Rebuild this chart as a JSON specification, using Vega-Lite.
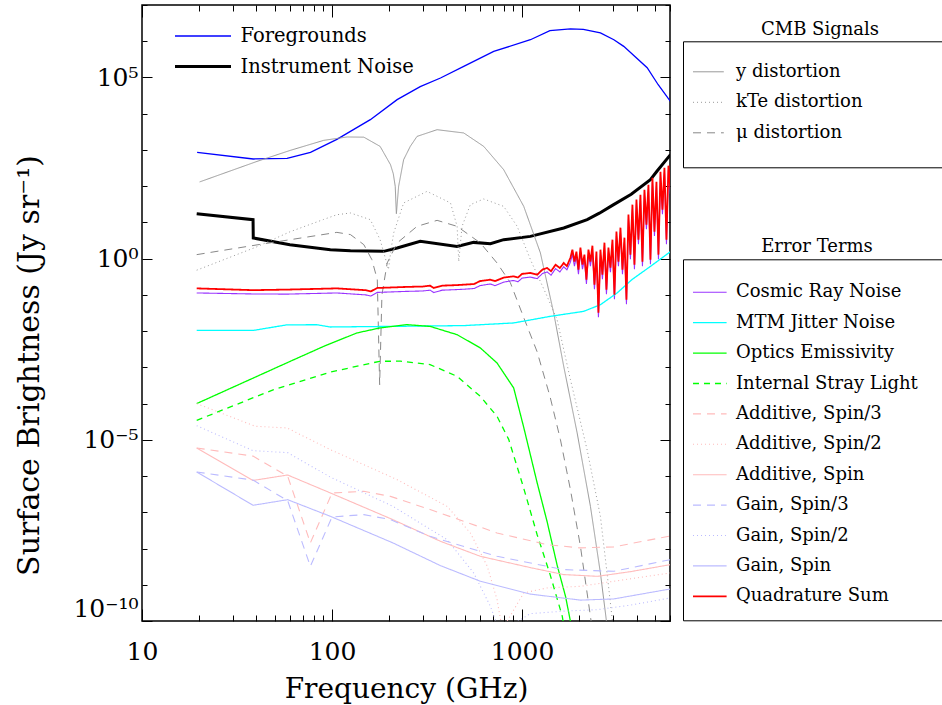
{
  "$schema": "https://vega.github.io/schema/vega-lite/v6.json",
  "width": 528,
  "height": 616,
  "autosize": {"type": "none"},
  "padding": {"left": 142, "top": 5, "right": 272, "bottom": 84},
  "background": "white",
  "config": {
    "font": "DejaVu Serif",
    "view": {"stroke": "#000", "strokeWidth": 1.5},
    "axis": {"domain": false, "grid": false, "tickColor": "#000", "tickWidth": 1, "labelColor": "#000", "titleColor": "#000", "labelFont": "DejaVu Serif", "titleFont": "DejaVu Serif", "titleFontWeight": "normal"},
    "legend": {"labelFont": "DejaVu Serif", "titleFont": "DejaVu Serif", "titleFontWeight": "normal", "labelColor": "#000", "titleColor": "#000", "labelLimit": 600}
  },
  "datasets": {
    "fg": [
      {"s": "Foregrounds", "f": 19.5, "v": 857}, {"s": "Foregrounds", "f": 38.5, "v": 563}, {"s": "Foregrounds", "f": 58, "v": 585}, {"s": "Foregrounds", "f": 77, "v": 857}, {"s": "Foregrounds", "f": 106, "v": 1950}, {"s": "Foregrounds", "f": 159, "v": 6840}, {"s": "Foregrounds", "f": 220, "v": 24400}, {"s": "Foregrounds", "f": 291, "v": 55700}, {"s": "Foregrounds", "f": 372, "v": 96800}, {"s": "Foregrounds", "f": 493, "v": 202000}, {"s": "Foregrounds", "f": 709, "v": 525000}, {"s": "Foregrounds", "f": 1106, "v": 1100000}, {"s": "Foregrounds", "f": 1400, "v": 1950000}, {"s": "Foregrounds", "f": 1796, "v": 2180000}, {"s": "Foregrounds", "f": 2100, "v": 2120000}, {"s": "Foregrounds", "f": 2582, "v": 1690000}, {"s": "Foregrounds", "f": 3040, "v": 1100000}, {"s": "Foregrounds", "f": 3425, "v": 721000}, {"s": "Foregrounds", "f": 4550, "v": 186000}, {"s": "Foregrounds", "f": 5200, "v": 63000}, {"s": "Foregrounds", "f": 6033, "v": 21900},
      {"s": "Instrument Noise", "f": 19.4, "v": 17.4}, {"s": "Instrument Noise", "f": 38.4, "v": 11.9}, {"s": "Instrument Noise", "f": 38.5, "v": 3.72}, {"s": "Instrument Noise", "f": 60, "v": 2.43}, {"s": "Instrument Noise", "f": 98, "v": 1.77}, {"s": "Instrument Noise", "f": 125, "v": 1.66}, {"s": "Instrument Noise", "f": 187, "v": 1.59}, {"s": "Instrument Noise", "f": 220, "v": 1.97}, {"s": "Instrument Noise", "f": 291, "v": 3.0}, {"s": "Instrument Noise", "f": 455, "v": 2.18}, {"s": "Instrument Noise", "f": 556, "v": 2.81}, {"s": "Instrument Noise", "f": 681, "v": 2.59}, {"s": "Instrument Noise", "f": 800, "v": 3.34}, {"s": "Instrument Noise", "f": 1106, "v": 4.12}, {"s": "Instrument Noise", "f": 1656, "v": 7.03}, {"s": "Instrument Noise", "f": 2200, "v": 12}, {"s": "Instrument Noise", "f": 2550, "v": 18}, {"s": "Instrument Noise", "f": 3000, "v": 30}, {"s": "Instrument Noise", "f": 3750, "v": 60}, {"s": "Instrument Noise", "f": 4732, "v": 151}, {"s": "Instrument Noise", "f": 5120, "v": 258}, {"s": "Instrument Noise", "f": 6033, "v": 740}
    ],
    "cmb": [
      {"s": "y distortion", "f": 20.1, "v": 131}, {"s": "y distortion", "f": 40.3, "v": 483}, {"s": "y distortion", "f": 60.3, "v": 973}, {"s": "y distortion", "f": 90.3, "v": 1837}, {"s": "y distortion", "f": 120, "v": 2280}, {"s": "y distortion", "f": 147, "v": 2250}, {"s": "y distortion", "f": 179, "v": 1254}, {"s": "y distortion", "f": 203, "v": 392}, {"s": "y distortion", "f": 210, "v": 220}, {"s": "y distortion", "f": 215, "v": 98.9}, {"s": "y distortion", "f": 218, "v": 17.4}, {"s": "y distortion", "f": 224, "v": 98.9}, {"s": "y distortion", "f": 238, "v": 538}, {"s": "y distortion", "f": 258, "v": 1254}, {"s": "y distortion", "f": 280, "v": 2365}, {"s": "y distortion", "f": 357, "v": 3620}, {"s": "y distortion", "f": 493, "v": 2940}, {"s": "y distortion", "f": 628, "v": 1254}, {"s": "y distortion", "f": 800, "v": 285}, {"s": "y distortion", "f": 1020, "v": 27.7}, {"s": "y distortion", "f": 1248, "v": 1.44}, {"s": "y distortion", "f": 1466, "v": 0.0317}, {"s": "y distortion", "f": 1656, "v": 0.00106}, {"s": "y distortion", "f": 1948, "v": 1.55e-5}, {"s": "y distortion", "f": 2288, "v": 1.46e-7}, {"s": "y distortion", "f": 2582, "v": 2.12e-9}, {"s": "y distortion", "f": 2779, "v": 9.8e-11}, {"s": "y distortion", "f": 2988, "v": 8.5e-12},
      {"s": "kTe distortion", "f": 19.4, "v": 0.48}, {"s": "kTe distortion", "f": 40, "v": 2.1}, {"s": "kTe distortion", "f": 60, "v": 5.5}, {"s": "kTe distortion", "f": 90, "v": 12}, {"s": "kTe distortion", "f": 106, "v": 16.3}, {"s": "kTe distortion", "f": 125, "v": 18.2}, {"s": "kTe distortion", "f": 159, "v": 11.9}, {"s": "kTe distortion", "f": 179, "v": 3.34}, {"s": "kTe distortion", "f": 193, "v": 0.83}, {"s": "kTe distortion", "f": 198, "v": 0.5}, {"s": "kTe distortion", "f": 205, "v": 2.0}, {"s": "kTe distortion", "f": 211, "v": 5.12}, {"s": "kTe distortion", "f": 238, "v": 34.4}, {"s": "kTe distortion", "f": 316, "v": 71.9}, {"s": "kTe distortion", "f": 420, "v": 34.4}, {"s": "kTe distortion", "f": 455, "v": 7.79}, {"s": "kTe distortion", "f": 464, "v": 0.83}, {"s": "kTe distortion", "f": 483, "v": 7.79}, {"s": "kTe distortion", "f": 534, "v": 30.8}, {"s": "kTe distortion", "f": 628, "v": 44.4}, {"s": "kTe distortion", "f": 800, "v": 27.7}, {"s": "kTe distortion", "f": 942, "v": 7.79}, {"s": "kTe distortion", "f": 1106, "v": 0.94}, {"s": "kTe distortion", "f": 1354, "v": 0.091}, {"s": "kTe distortion", "f": 1528, "v": 0.0207}, {"s": "kTe distortion", "f": 1796, "v": 4.58e-4}, {"s": "kTe distortion", "f": 2197, "v": 5.36e-6}, {"s": "kTe distortion", "f": 2582, "v": 7.74e-8}, {"s": "kTe distortion", "f": 2798, "v": 2.12e-9}, {"s": "kTe distortion", "f": 2987, "v": 1e-10}, {"s": "kTe distortion", "f": 3213, "v": 8.5e-12},
      {"s": "μ distortion", "f": 19.4, "v": 1.29}, {"s": "μ distortion", "f": 40.3, "v": 2.4}, {"s": "μ distortion", "f": 60.3, "v": 3.34}, {"s": "μ distortion", "f": 106, "v": 5.31}, {"s": "μ distortion", "f": 125, "v": 4.61}, {"s": "μ distortion", "f": 147, "v": 2.43}, {"s": "μ distortion", "f": 162, "v": 0.94}, {"s": "μ distortion", "f": 173, "v": 0.263}, {"s": "μ distortion", "f": 178, "v": 3.33e-4}, {"s": "μ distortion", "f": 183, "v": 0.1}, {"s": "μ distortion", "f": 195, "v": 0.76}, {"s": "μ distortion", "f": 220, "v": 2.71}, {"s": "μ distortion", "f": 280, "v": 7.79}, {"s": "μ distortion", "f": 357, "v": 11.4}, {"s": "μ distortion", "f": 455, "v": 7.79}, {"s": "μ distortion", "f": 603, "v": 2.71}, {"s": "μ distortion", "f": 738, "v": 0.76}, {"s": "μ distortion", "f": 867, "v": 0.217}, {"s": "μ distortion", "f": 1020, "v": 0.0236}, {"s": "μ distortion", "f": 1199, "v": 2.71e-3}, {"s": "μ distortion", "f": 1403, "v": 1.55e-4}, {"s": "μ distortion", "f": 1591, "v": 1.01e-5}, {"s": "μ distortion", "f": 1796, "v": 4.2e-7}, {"s": "μ distortion", "f": 2027, "v": 1.15e-8}, {"s": "μ distortion", "f": 2288, "v": 1.35e-10}, {"s": "μ distortion", "f": 2460, "v": 8.5e-12}
    ],
    "err": [
      {"s": "Cosmic Ray Noise", "f": 19.4, "v": 0.113}, {"s": "Cosmic Ray Noise", "f": 38.5, "v": 0.106}, {"s": "Cosmic Ray Noise", "f": 58, "v": 0.105}, {"s": "Cosmic Ray Noise", "f": 106, "v": 0.113}, {"s": "Cosmic Ray Noise", "f": 150, "v": 0.1}, {"s": "Cosmic Ray Noise", "f": 160, "v": 0.093}, {"s": "Cosmic Ray Noise", "f": 173, "v": 0.117}, {"s": "Cosmic Ray Noise", "f": 247, "v": 0.125}, {"s": "Cosmic Ray Noise", "f": 300, "v": 0.128}, {"s": "Cosmic Ray Noise", "f": 328, "v": 0.135}, {"s": "Cosmic Ray Noise", "f": 343, "v": 0.116}, {"s": "Cosmic Ray Noise", "f": 380, "v": 0.135}, {"s": "Cosmic Ray Noise", "f": 440, "v": 0.139}, {"s": "Cosmic Ray Noise", "f": 493, "v": 0.143}, {"s": "Cosmic Ray Noise", "f": 560, "v": 0.15}, {"s": "Cosmic Ray Noise", "f": 600, "v": 0.18}, {"s": "Cosmic Ray Noise", "f": 681, "v": 0.2}, {"s": "Cosmic Ray Noise", "f": 720, "v": 0.18}, {"s": "Cosmic Ray Noise", "f": 800, "v": 0.225}, {"s": "Cosmic Ray Noise", "f": 903, "v": 0.25}, {"s": "Cosmic Ray Noise", "f": 950, "v": 0.23}, {"s": "Cosmic Ray Noise", "f": 1000, "v": 0.29}, {"s": "Cosmic Ray Noise", "f": 1106, "v": 0.31}, {"s": "Cosmic Ray Noise", "f": 1200, "v": 0.28}, {"s": "Cosmic Ray Noise", "f": 1280, "v": 0.39}, {"s": "Cosmic Ray Noise", "f": 1354, "v": 0.43}, {"s": "Cosmic Ray Noise", "f": 1420, "v": 0.35}, {"s": "Cosmic Ray Noise", "f": 1500, "v": 0.53}, {"s": "Cosmic Ray Noise", "f": 1580, "v": 0.43}, {"s": "Cosmic Ray Noise", "f": 1656, "v": 0.6}, {"s": "Cosmic Ray Noise", "f": 1720, "v": 0.49},
      {"s": "Cosmic Ray Noise", "f": 1796, "v": 0.8}, {"s": "Cosmic Ray Noise", "f": 1839, "v": 1.33}, {"s": "Cosmic Ray Noise", "f": 1885, "v": 0.62}, {"s": "Cosmic Ray Noise", "f": 1931, "v": 1.17}, {"s": "Cosmic Ray Noise", "f": 1979, "v": 0.37}, {"s": "Cosmic Ray Noise", "f": 2027, "v": 1.5}, {"s": "Cosmic Ray Noise", "f": 2077, "v": 0.51}, {"s": "Cosmic Ray Noise", "f": 2128, "v": 0.97}, {"s": "Cosmic Ray Noise", "f": 2180, "v": 0.2}, {"s": "Cosmic Ray Noise", "f": 2234, "v": 1.33}, {"s": "Cosmic Ray Noise", "f": 2289, "v": 0.62}, {"s": "Cosmic Ray Noise", "f": 2344, "v": 1.71}, {"s": "Cosmic Ray Noise", "f": 2402, "v": 0.143}, {"s": "Cosmic Ray Noise", "f": 2461, "v": 1.17}, {"s": "Cosmic Ray Noise", "f": 2521, "v": 0.024}, {"s": "Cosmic Ray Noise", "f": 2583, "v": 1.33}, {"s": "Cosmic Ray Noise", "f": 2646, "v": 0.27}, {"s": "Cosmic Ray Noise", "f": 2712, "v": 2.07}, {"s": "Cosmic Ray Noise", "f": 2778, "v": 0.104}, {"s": "Cosmic Ray Noise", "f": 2846, "v": 1.5}, {"s": "Cosmic Ray Noise", "f": 2916, "v": 0.42}, {"s": "Cosmic Ray Noise", "f": 2988, "v": 2.5}, {"s": "Cosmic Ray Noise", "f": 3061, "v": 0.076}, {"s": "Cosmic Ray Noise", "f": 3136, "v": 4.2}, {"s": "Cosmic Ray Noise", "f": 3213, "v": 0.62}, {"s": "Cosmic Ray Noise", "f": 3292, "v": 5.4}, {"s": "Cosmic Ray Noise", "f": 3373, "v": 0.37}, {"s": "Cosmic Ray Noise", "f": 3455, "v": 2.84}, {"s": "Cosmic Ray Noise", "f": 3540, "v": 0.055}, {"s": "Cosmic Ray Noise", "f": 3627, "v": 12.3}, {"s": "Cosmic Ray Noise", "f": 3715, "v": 0.97}, {"s": "Cosmic Ray Noise", "f": 3806, "v": 23.2}, {"s": "Cosmic Ray Noise", "f": 3900, "v": 0.51}, {"s": "Cosmic Ray Noise", "f": 3996, "v": 31.9}, {"s": "Cosmic Ray Noise", "f": 4094, "v": 2.5}, {"s": "Cosmic Ray Noise", "f": 4194, "v": 43.7}, {"s": "Cosmic Ray Noise", "f": 4297, "v": 0.62}, {"s": "Cosmic Ray Noise", "f": 4403, "v": 60}, {"s": "Cosmic Ray Noise", "f": 4510, "v": 6.5}, {"s": "Cosmic Ray Noise", "f": 4621, "v": 82}, {"s": "Cosmic Ray Noise", "f": 4735, "v": 0.7}, {"s": "Cosmic Ray Noise", "f": 4851, "v": 128}, {"s": "Cosmic Ray Noise", "f": 4970, "v": 4.2}, {"s": "Cosmic Ray Noise", "f": 5092, "v": 100}, {"s": "Cosmic Ray Noise", "f": 5217, "v": 0.97}, {"s": "Cosmic Ray Noise", "f": 5345, "v": 188}, {"s": "Cosmic Ray Noise", "f": 5476, "v": 16.9}, {"s": "Cosmic Ray Noise", "f": 5610, "v": 243}, {"s": "Cosmic Ray Noise", "f": 5748, "v": 2.5}, {"s": "Cosmic Ray Noise", "f": 5888, "v": 276}, {"s": "Cosmic Ray Noise", "f": 6033, "v": 60},
      {"s": "MTM Jitter Noise", "f": 19.4, "v": 0.0105}, {"s": "MTM Jitter Noise", "f": 38.7, "v": 0.0105}, {"s": "MTM Jitter Noise", "f": 57.9, "v": 0.0149}, {"s": "MTM Jitter Noise", "f": 83.4, "v": 0.015}, {"s": "MTM Jitter Noise", "f": 97.9, "v": 0.013}, {"s": "MTM Jitter Noise", "f": 203, "v": 0.0135}, {"s": "MTM Jitter Noise", "f": 493, "v": 0.0142}, {"s": "MTM Jitter Noise", "f": 903, "v": 0.0168}, {"s": "MTM Jitter Noise", "f": 1403, "v": 0.0255}, {"s": "MTM Jitter Noise", "f": 2108, "v": 0.0351}, {"s": "MTM Jitter Noise", "f": 2583, "v": 0.0537}, {"s": "MTM Jitter Noise", "f": 3162, "v": 0.113}, {"s": "MTM Jitter Noise", "f": 3780, "v": 0.263}, {"s": "MTM Jitter Noise", "f": 4735, "v": 0.612}, {"s": "MTM Jitter Noise", "f": 6033, "v": 1.56},
      {"s": "Optics Emissivity", "f": 19.4, "v": 1e-4}, {"s": "Optics Emissivity", "f": 40.3, "v": 5.65e-4}, {"s": "Optics Emissivity", "f": 60.3, "v": 1.47e-3}, {"s": "Optics Emissivity", "f": 90.3, "v": 3.79e-3}, {"s": "Optics Emissivity", "f": 135, "v": 8.89e-3}, {"s": "Optics Emissivity", "f": 178, "v": 0.0122}, {"s": "Optics Emissivity", "f": 247, "v": 0.0151}, {"s": "Optics Emissivity", "f": 328, "v": 0.0135}, {"s": "Optics Emissivity", "f": 455, "v": 7.98e-3}, {"s": "Optics Emissivity", "f": 603, "v": 3.43e-3}, {"s": "Optics Emissivity", "f": 738, "v": 1.32e-3}, {"s": "Optics Emissivity", "f": 903, "v": 2.7e-4}, {"s": "Optics Emissivity", "f": 1020, "v": 2.2e-5}, {"s": "Optics Emissivity", "f": 1200, "v": 6.5e-7}, {"s": "Optics Emissivity", "f": 1354, "v": 5.5e-8}, {"s": "Optics Emissivity", "f": 1528, "v": 3.5e-9}, {"s": "Optics Emissivity", "f": 1692, "v": 4.8e-10}, {"s": "Optics Emissivity", "f": 1796, "v": 9.8e-11}, {"s": "Optics Emissivity", "f": 1905, "v": 2.3e-11},
      {"s": "Internal Stray Light", "f": 19.4, "v": 3.45e-5}, {"s": "Internal Stray Light", "f": 49.3, "v": 2.43e-4}, {"s": "Internal Stray Light", "f": 98, "v": 7.38e-4}, {"s": "Internal Stray Light", "f": 178, "v": 1.47e-3}, {"s": "Internal Stray Light", "f": 229, "v": 1.48e-3}, {"s": "Internal Stray Light", "f": 328, "v": 1.19e-3}, {"s": "Internal Stray Light", "f": 455, "v": 5.65e-4}, {"s": "Internal Stray Light", "f": 603, "v": 1.58e-4}, {"s": "Internal Stray Light", "f": 738, "v": 4.45e-5}, {"s": "Internal Stray Light", "f": 850, "v": 1.03e-5}, {"s": "Internal Stray Light", "f": 1020, "v": 4.6e-7}, {"s": "Internal Stray Light", "f": 1200, "v": 2.4e-8}, {"s": "Internal Stray Light", "f": 1403, "v": 1.94e-9}, {"s": "Internal Stray Light", "f": 1627, "v": 1.35e-10}, {"s": "Internal Stray Light", "f": 1704, "v": 3.1e-11},
      {"s": "Additive, Spin/3", "f": 19.4, "v": 5.97e-6}, {"s": "Additive, Spin/3", "f": 38.4, "v": 3.55e-6}, {"s": "Additive, Spin/3", "f": 58.4, "v": 9.95e-7}, {"s": "Additive, Spin/3", "f": 76.9, "v": 1.43e-8}, {"s": "Additive, Spin/3", "f": 100, "v": 3.42e-7}, {"s": "Additive, Spin/3", "f": 147, "v": 3.79e-7}, {"s": "Additive, Spin/3", "f": 203, "v": 2.75e-7}, {"s": "Additive, Spin/3", "f": 328, "v": 1.19e-7}, {"s": "Additive, Spin/3", "f": 738, "v": 2.69e-8}, {"s": "Additive, Spin/3", "f": 1354, "v": 1.28e-8}, {"s": "Additive, Spin/3", "f": 2027, "v": 1.04e-8}, {"s": "Additive, Spin/3", "f": 3040, "v": 1.11e-8}, {"s": "Additive, Spin/3", "f": 6033, "v": 2.23e-8},
      {"s": "Additive, Spin/2", "f": 19.4, "v": 1.0e-4}, {"s": "Additive, Spin/2", "f": 39.5, "v": 2.36e-5}, {"s": "Additive, Spin/2", "f": 57.9, "v": 2.13e-5}, {"s": "Additive, Spin/2", "f": 98, "v": 5.36e-6}, {"s": "Additive, Spin/2", "f": 220, "v": 7.96e-7}, {"s": "Additive, Spin/2", "f": 403, "v": 1.46e-7}, {"s": "Additive, Spin/2", "f": 534, "v": 2.69e-8}, {"s": "Additive, Spin/2", "f": 656, "v": 3.23e-9}, {"s": "Additive, Spin/2", "f": 738, "v": 3.89e-10}, {"s": "Additive, Spin/2", "f": 770, "v": 1.09e-10}, {"s": "Additive, Spin/2", "f": 788, "v": 8.5e-12}, {"s": "Additive, Spin/2", "f": 835, "v": 1e-10}, {"s": "Additive, Spin/2", "f": 1020, "v": 5.96e-10}, {"s": "Additive, Spin/2", "f": 1354, "v": 8.18e-10}, {"s": "Additive, Spin/2", "f": 2027, "v": 9.06e-10}, {"s": "Additive, Spin/2", "f": 3040, "v": 1.25e-9}, {"s": "Additive, Spin/2", "f": 6033, "v": 2.12e-9},
      {"s": "Additive, Spin", "f": 19.4, "v": 5.97e-6}, {"s": "Additive, Spin", "f": 38.4, "v": 7.57e-7}, {"s": "Additive, Spin", "f": 58.4, "v": 1.07e-6}, {"s": "Additive, Spin", "f": 98, "v": 3.42e-7}, {"s": "Additive, Spin", "f": 209, "v": 6.27e-8}, {"s": "Additive, Spin", "f": 372, "v": 1.58e-8}, {"s": "Additive, Spin", "f": 603, "v": 6.1e-9}, {"s": "Additive, Spin", "f": 1106, "v": 2.97e-9}, {"s": "Additive, Spin", "f": 1656, "v": 1.91e-9}, {"s": "Additive, Spin", "f": 2496, "v": 1.71e-9}, {"s": "Additive, Spin", "f": 3715, "v": 2.3e-9}, {"s": "Additive, Spin", "f": 6033, "v": 3.6e-9},
      {"s": "Gain, Spin/3", "f": 19.4, "v": 1.3e-6}, {"s": "Gain, Spin/3", "f": 38.4, "v": 7.71e-7}, {"s": "Gain, Spin/3", "f": 58.4, "v": 2.1e-7}, {"s": "Gain, Spin/3", "f": 76.9, "v": 3.23e-9}, {"s": "Gain, Spin/3", "f": 100, "v": 7.45e-8}, {"s": "Gain, Spin/3", "f": 147, "v": 8.63e-8}, {"s": "Gain, Spin/3", "f": 203, "v": 6.28e-8}, {"s": "Gain, Spin/3", "f": 328, "v": 2.17e-8}, {"s": "Gain, Spin/3", "f": 738, "v": 6.09e-9}, {"s": "Gain, Spin/3", "f": 1656, "v": 2.62e-9}, {"s": "Gain, Spin/3", "f": 3040, "v": 2.35e-9}, {"s": "Gain, Spin/3", "f": 6033, "v": 4.94e-9},
      {"s": "Gain, Spin/2", "f": 19.4, "v": 2.46e-5}, {"s": "Gain, Spin/2", "f": 38.4, "v": 5.02e-6}, {"s": "Gain, Spin/2", "f": 58.4, "v": 4.43e-6}, {"s": "Gain, Spin/2", "f": 98, "v": 9.33e-7}, {"s": "Gain, Spin/2", "f": 209, "v": 1.46e-7}, {"s": "Gain, Spin/2", "f": 403, "v": 1.76e-8}, {"s": "Gain, Spin/2", "f": 556, "v": 2.12e-9}, {"s": "Gain, Spin/2", "f": 681, "v": 2.54e-10}, {"s": "Gain, Spin/2", "f": 740, "v": 7.9e-11}, {"s": "Gain, Spin/2", "f": 796, "v": 8.5e-12}, {"s": "Gain, Spin/2", "f": 889, "v": 7.9e-11}, {"s": "Gain, Spin/2", "f": 1106, "v": 1.6e-10}, {"s": "Gain, Spin/2", "f": 1656, "v": 1.87e-10}, {"s": "Gain, Spin/2", "f": 2496, "v": 2.06e-10}, {"s": "Gain, Spin/2", "f": 3715, "v": 2.74e-10}, {"s": "Gain, Spin/2", "f": 6033, "v": 4.34e-10},
      {"s": "Gain, Spin", "f": 19.4, "v": 1.3e-6}, {"s": "Gain, Spin", "f": 38.4, "v": 1.56e-7}, {"s": "Gain, Spin", "f": 58.4, "v": 2.23e-7}, {"s": "Gain, Spin", "f": 98, "v": 7.74e-8}, {"s": "Gain, Spin", "f": 209, "v": 1.43e-8}, {"s": "Gain, Spin", "f": 372, "v": 3.37e-9}, {"s": "Gain, Spin", "f": 603, "v": 1.25e-9}, {"s": "Gain, Spin", "f": 1106, "v": 5.52e-10}, {"s": "Gain, Spin", "f": 2027, "v": 3.77e-10}, {"s": "Gain, Spin", "f": 3040, "v": 4.07e-10}, {"s": "Gain, Spin", "f": 6033, "v": 7.67e-10},
      {"s": "Quadrature Sum", "f": 19.4, "v": 0.151}, {"s": "Quadrature Sum", "f": 38.5, "v": 0.135}, {"s": "Quadrature Sum", "f": 58, "v": 0.14}, {"s": "Quadrature Sum", "f": 106, "v": 0.151}, {"s": "Quadrature Sum", "f": 150, "v": 0.135}, {"s": "Quadrature Sum", "f": 160, "v": 0.125}, {"s": "Quadrature Sum", "f": 173, "v": 0.155}, {"s": "Quadrature Sum", "f": 247, "v": 0.166}, {"s": "Quadrature Sum", "f": 300, "v": 0.17}, {"s": "Quadrature Sum", "f": 328, "v": 0.18}, {"s": "Quadrature Sum", "f": 343, "v": 0.155}, {"s": "Quadrature Sum", "f": 380, "v": 0.18}, {"s": "Quadrature Sum", "f": 440, "v": 0.185}, {"s": "Quadrature Sum", "f": 493, "v": 0.191}, {"s": "Quadrature Sum", "f": 560, "v": 0.2}, {"s": "Quadrature Sum", "f": 600, "v": 0.24}, {"s": "Quadrature Sum", "f": 681, "v": 0.263}, {"s": "Quadrature Sum", "f": 720, "v": 0.24}, {"s": "Quadrature Sum", "f": 800, "v": 0.3}, {"s": "Quadrature Sum", "f": 903, "v": 0.325}, {"s": "Quadrature Sum", "f": 950, "v": 0.3}, {"s": "Quadrature Sum", "f": 1000, "v": 0.38}, {"s": "Quadrature Sum", "f": 1106, "v": 0.403}, {"s": "Quadrature Sum", "f": 1200, "v": 0.36}, {"s": "Quadrature Sum", "f": 1280, "v": 0.5}, {"s": "Quadrature Sum", "f": 1354, "v": 0.553}, {"s": "Quadrature Sum", "f": 1420, "v": 0.45}, {"s": "Quadrature Sum", "f": 1500, "v": 0.68}, {"s": "Quadrature Sum", "f": 1580, "v": 0.55}, {"s": "Quadrature Sum", "f": 1656, "v": 0.76}, {"s": "Quadrature Sum", "f": 1720, "v": 0.62},
      {"s": "Quadrature Sum", "f": 1796, "v": 1.06}, {"s": "Quadrature Sum", "f": 1839, "v": 1.77}, {"s": "Quadrature Sum", "f": 1885, "v": 0.826}, {"s": "Quadrature Sum", "f": 1931, "v": 1.56}, {"s": "Quadrature Sum", "f": 1979, "v": 0.497}, {"s": "Quadrature Sum", "f": 2027, "v": 2.01}, {"s": "Quadrature Sum", "f": 2077, "v": 0.683}, {"s": "Quadrature Sum", "f": 2128, "v": 1.29}, {"s": "Quadrature Sum", "f": 2180, "v": 0.263}, {"s": "Quadrature Sum", "f": 2234, "v": 1.77}, {"s": "Quadrature Sum", "f": 2289, "v": 0.826}, {"s": "Quadrature Sum", "f": 2344, "v": 2.28}, {"s": "Quadrature Sum", "f": 2402, "v": 0.191}, {"s": "Quadrature Sum", "f": 2461, "v": 1.56}, {"s": "Quadrature Sum", "f": 2521, "v": 0.0323}, {"s": "Quadrature Sum", "f": 2583, "v": 1.77}, {"s": "Quadrature Sum", "f": 2646, "v": 0.361}, {"s": "Quadrature Sum", "f": 2712, "v": 2.76}, {"s": "Quadrature Sum", "f": 2778, "v": 0.139}, {"s": "Quadrature Sum", "f": 2846, "v": 2.01}, {"s": "Quadrature Sum", "f": 2916, "v": 0.564}, {"s": "Quadrature Sum", "f": 2988, "v": 3.34}, {"s": "Quadrature Sum", "f": 3061, "v": 0.101}, {"s": "Quadrature Sum", "f": 3136, "v": 5.56}, {"s": "Quadrature Sum", "f": 3213, "v": 0.826}, {"s": "Quadrature Sum", "f": 3292, "v": 7.16}, {"s": "Quadrature Sum", "f": 3373, "v": 0.497}, {"s": "Quadrature Sum", "f": 3455, "v": 3.79}, {"s": "Quadrature Sum", "f": 3540, "v": 0.0738}, {"s": "Quadrature Sum", "f": 3627, "v": 16.4}, {"s": "Quadrature Sum", "f": 3715, "v": 1.29}, {"s": "Quadrature Sum", "f": 3806, "v": 30.9}, {"s": "Quadrature Sum", "f": 3900, "v": 0.683}, {"s": "Quadrature Sum", "f": 3996, "v": 42.5}, {"s": "Quadrature Sum", "f": 4094, "v": 3.34}, {"s": "Quadrature Sum", "f": 4194, "v": 58.3}, {"s": "Quadrature Sum", "f": 4297, "v": 0.826}, {"s": "Quadrature Sum", "f": 4403, "v": 80}, {"s": "Quadrature Sum", "f": 4510, "v": 8.67}, {"s": "Quadrature Sum", "f": 4621, "v": 110}, {"s": "Quadrature Sum", "f": 4735, "v": 0.938}, {"s": "Quadrature Sum", "f": 4851, "v": 171}, {"s": "Quadrature Sum", "f": 4970, "v": 5.56}, {"s": "Quadrature Sum", "f": 5092, "v": 133}, {"s": "Quadrature Sum", "f": 5217, "v": 1.29}, {"s": "Quadrature Sum", "f": 5345, "v": 251}, {"s": "Quadrature Sum", "f": 5476, "v": 22.5}, {"s": "Quadrature Sum", "f": 5610, "v": 324}, {"s": "Quadrature Sum", "f": 5748, "v": 3.34}, {"s": "Quadrature Sum", "f": 5888, "v": 368}, {"s": "Quadrature Sum", "f": 6033, "v": 80}
    ]
  },
  "layer": [
    {
      "data": {"name": "fg"},
      "mark": {"type": "line", "clip": true},
      "encoding": {
        "x": {
          "field": "f", "type": "quantitative",
          "scale": {"type": "log", "domain": [10, 6000], "nice": false},
          "axis": {
            "orient": "bottom",
            "values": [10, 20, 30, 40, 50, 60, 70, 80, 90, 100, 200, 300, 400, 500, 600, 700, 800, 900, 1000, 2000, 3000, 4000, 5000, 6000],
            "labelExpr": "datum.value == 10 ? '10' : datum.value == 100 ? '100' : datum.value == 1000 ? '1000' : ''",
            "tickSize": {"condition": {"test": "datum.value == 10 || datum.value == 100 || datum.value == 1000", "value": -12}, "value": -6},
            "labelPadding": 30, "labelFontSize": 25, "labelFlush": false,
            "title": "Frequency (GHz)", "titleFontSize": 28, "titleY": 76, "titleBaseline": "alphabetic"
          }
        },
        "y": {
          "field": "v", "type": "quantitative",
          "scale": {"type": "log", "domain": [1e-10, 10000000], "nice": false},
          "axis": {
            "orient": "left",
            "values": [1e-10, 1e-9, 1e-8, 1e-7, 1e-6, 1e-5, 1e-4, 1e-3, 0.01, 0.1, 1, 10, 100, 1000, 10000, 100000, 1000000, 10000000],
            "labelExpr": "datum.value == 100000 ? '10⁵' : datum.value == 1 ? '10⁰' : datum.value == 0.00001 ? '10⁻⁵' : datum.value == 1e-10 ? '10⁻¹⁰' : ''",
            "tickSize": {"condition": {"test": "datum.value == 100000 || datum.value == 1 || datum.value == 0.00001 || datum.value == 1e-10", "value": -10}, "value": -5},
            "labelPadding": 14, "labelFontSize": 25, "labelFlush": true,
            "title": "Surface Brightness (Jy sr⁻¹)", "titleFontSize": 30, "titleX": -104, "titleY": 360, "titleAngle": 270, "titleAlign": "center", "titleBaseline": "alphabetic"
          }
        },
        "color": {
          "field": "s", "type": "nominal",
          "scale": {"domain": ["Foregrounds", "Instrument Noise"], "range": ["#0000ff", "#000000"]},
          "legend": {"orient": "none", "legendX": 34, "legendY": 16, "title": null, "padding": 0, "symbolType": "M-2,0L2,0", "symbolSize": 784, "symbolOffset": 11.5, "labelOffset": 22, "labelFont": "DejaVu Serif", "labelFontSize": 19.5, "labelColor": "#000", "rowPadding": 5,
            "encoding": {"labels": {"update": {"font": {"value": "DejaVu Serif"}}}}}
        },
        "strokeWidth": {
          "field": "s", "type": "nominal",
          "scale": {"type": "ordinal", "domain": ["Foregrounds", "Instrument Noise"], "range": [1.3, 3]}
        }
      }
    },
    {
      "data": {"name": "cmb"},
      "mark": {"type": "line", "clip": true, "strokeWidth": 1},
      "encoding": {
        "x": {
          "field": "f", "type": "quantitative",
          "scale": {"type": "log", "domain": [10, 6000], "nice": false},
          "axis": {
            "orient": "top", "labels": false, "title": null,
            "values": [10, 20, 30, 40, 50, 60, 70, 80, 90, 100, 200, 300, 400, 500, 600, 700, 800, 900, 1000, 2000, 3000, 4000, 5000, 6000],
            "tickSize": {"condition": {"test": "datum.value == 10 || datum.value == 100 || datum.value == 1000", "value": -12}, "value": -6}
          }
        },
        "y": {
          "field": "v", "type": "quantitative",
          "scale": {"type": "log", "domain": [1e-10, 10000000], "nice": false},
          "axis": {
            "orient": "right", "labels": false, "title": null,
            "values": [1e-10, 1e-9, 1e-8, 1e-7, 1e-6, 1e-5, 1e-4, 1e-3, 0.01, 0.1, 1, 10, 100, 1000, 10000, 100000, 1000000, 10000000],
            "tickSize": {"condition": {"test": "datum.value == 100000 || datum.value == 1 || datum.value == 0.00001 || datum.value == 1e-10", "value": -10}, "value": -5}
          }
        },
        "color": {
          "field": "s", "type": "nominal",
          "scale": {"domain": ["y distortion", "kTe distortion", "μ distortion"], "range": ["#999999", "#999999", "#888888"]},
          "legend": {"orient": "none", "legendX": 541, "legendY": 36.3, "title": "CMB Signals", "titleFont": "DejaVu Serif", "titleFontWeight": "normal", "titleColor": "#000", "titleFontSize": 18, "titleBaseline": "line-bottom", "titleLineHeight": 72, "titlePadding": -27, "titleAnchor": "middle", "padding": 25, "strokeColor": "#000", "symbolType": "M-1.1,0L1.1,0", "symbolSize": 784, "symbolStrokeWidth": 1, "symbolOffset": -14.1, "labelOffset": 13.1, "labelFont": "DejaVu Serif", "labelColor": "#000", "labelFontSize": 18, "rowPadding": 6.5,
            "labelExpr": "datum.label + '\u00a0\u00a0\u00a0\u00a0\u00a0\u00a0\u00a0\u00a0\u00a0\u00a0\u00a0\u00a0\u200b'",
            "encoding": {"labels": {"update": {"font": {"value": "DejaVu Serif"}}}, "title": {"update": {"font": {"value": "DejaVu Serif"}}}}}
        },
        "strokeDash": {
          "field": "s", "type": "nominal",
          "scale": {"domain": ["y distortion", "kTe distortion", "μ distortion"], "range": [[1, 0], [1, 3], [8, 6]]}
        }
      }
    },
    {
      "data": {"name": "err"},
      "mark": {"type": "line", "clip": true},
      "encoding": {
        "x": {"field": "f", "type": "quantitative", "scale": {"type": "log", "domain": [10, 6000], "nice": false}, "axis": null},
        "y": {"field": "v", "type": "quantitative", "scale": {"type": "log", "domain": [1e-10, 10000000], "nice": false}, "axis": null},
        "color": {
          "field": "s", "type": "nominal",
          "scale": {
            "domain": ["Cosmic Ray Noise", "MTM Jitter Noise", "Optics Emissivity", "Internal Stray Light", "Additive, Spin/3", "Additive, Spin/2", "Additive, Spin", "Gain, Spin/3", "Gain, Spin/2", "Gain, Spin", "Quadrature Sum"],
            "range": ["#9933ff", "#00ffff", "#00ff00", "#00ff00", "#ffbbbb", "#ffbbbb", "#ffbbbb", "#bbbbff", "#bbbbff", "#bbbbff", "#ff0000"]
          },
          "legend": {"orient": "none", "legendX": 541, "legendY": 254.3, "title": "Error Terms", "titleFont": "DejaVu Serif", "titleFontWeight": "normal", "titleColor": "#000", "titleFontSize": 18, "titleBaseline": "line-bottom", "titleLineHeight": 54, "titlePadding": -15, "titleAnchor": "middle", "padding": 15, "strokeColor": "#000", "symbolType": "M-1.2,0L1.2,0", "symbolSize": 784, "symbolOffset": -3.2, "labelOffset": 11.2, "labelFont": "DejaVu Serif", "labelColor": "#000", "labelFontSize": 18, "rowPadding": 6.4,
            "labelExpr": "datum.label + '\u00a0\u00a0\u00a0\u200b'",
            "encoding": {"labels": {"update": {"font": {"value": "DejaVu Serif"}}}, "title": {"update": {"font": {"value": "DejaVu Serif"}}}}}
        },
        "strokeDash": {
          "field": "s", "type": "nominal",
          "scale": {
            "domain": ["Cosmic Ray Noise", "MTM Jitter Noise", "Optics Emissivity", "Internal Stray Light", "Additive, Spin/3", "Additive, Spin/2", "Additive, Spin", "Gain, Spin/3", "Gain, Spin/2", "Gain, Spin", "Quadrature Sum"],
            "range": [[1, 0], [1, 0], [1, 0], [6, 5], [8, 6], [1, 3], [1, 0], [8, 6], [1, 3], [1, 0], [1, 0]]
          }
        },
        "strokeWidth": {
          "field": "s", "type": "nominal",
          "scale": {
            "type": "ordinal",
            "domain": ["Cosmic Ray Noise", "MTM Jitter Noise", "Optics Emissivity", "Internal Stray Light", "Additive, Spin/3", "Additive, Spin/2", "Additive, Spin", "Gain, Spin/3", "Gain, Spin/2", "Gain, Spin", "Quadrature Sum"],
            "range": [1.1, 1.3, 1.3, 1.3, 1.1, 1.1, 1.1, 1.1, 1.1, 1.1, 1.8]
          }
        }
      }
    }
  ],
  "resolve": {
    "scale": {"color": "independent", "strokeDash": "independent", "strokeWidth": "independent"},
    "axis": {"x": "independent", "y": "independent"},
    "legend": {"color": "independent", "strokeDash": "independent", "strokeWidth": "independent"}
  }
}
